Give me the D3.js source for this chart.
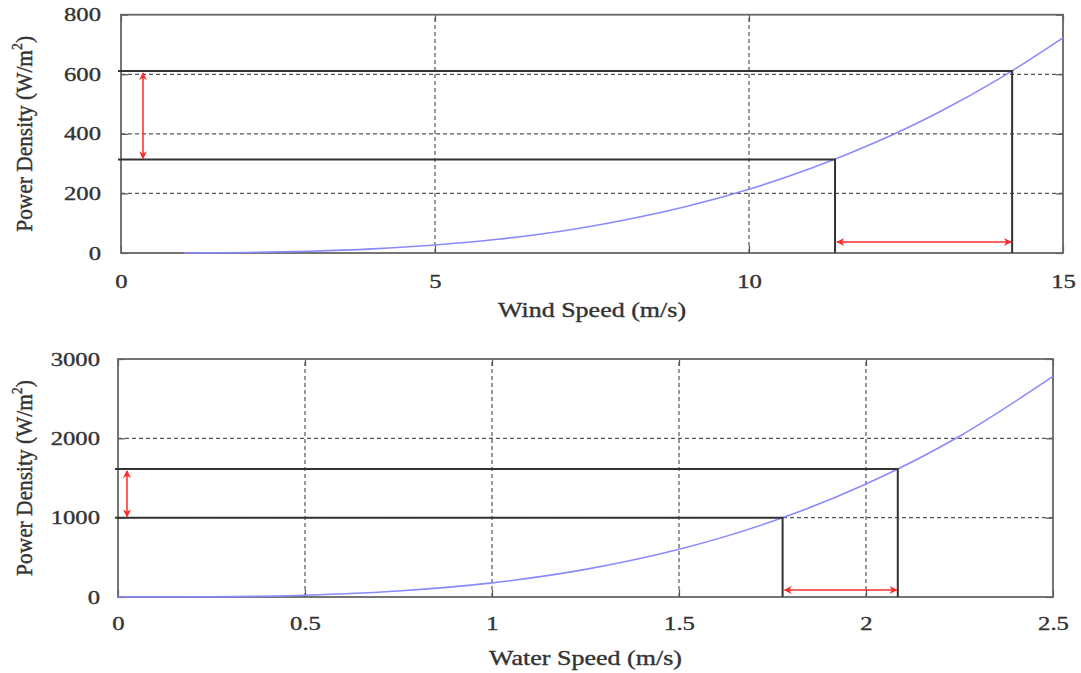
<!DOCTYPE html>
<html>
<head>
<meta charset="utf-8">
<script src="https://cdn.jsdelivr.net/npm/d3@7"></script>
<style>
  body { margin: 0; background: #fff; }
  text { font-family: "Liberation Serif", "DejaVu Serif", serif; fill: #333; stroke: #333; stroke-width: 0.35; }
</style>
</head>
<body>
<script>
// wind panel data
var windSpeed = [1, 2, 3, 4, 5, 6, 7, 8, 9, 10, 11, 12, 13, 14, 15];
var windPower = [0.2, 1.7, 5.8, 13.7, 26.8, 46, 73, 110, 156, 214, 285, 370, 470, 587, 722];
var windMarkSpeed = [11.37, 14.19];
var windMarkPower = [314, 611];
var windXTicks = [0, 5, 10, 15];
var windYTicks = [0, 200, 400, 600, 800];

// water panel data
var waterSpeed = [0, 0.25, 0.5, 0.75, 1, 1.25, 1.5, 1.75, 2, 2.25, 2.5];
var waterPower = [0, 2.8, 22, 75, 178, 348, 601, 954, 1424, 2027, 2781];
var waterMarkSpeed = [1.777, 2.085];
var waterMarkPower = [1000, 1615];
var waterXTicks = [0, 0.5, 1, 1.5, 2, 2.5];
var waterYTicks = [0, 1000, 2000, 3000];

var stretch = 1.3; // the source picture is widened horizontally

var svg = d3.select('body').append('svg')
    .attr('width', 1081)
    .attr('height', 673);

svg.append('defs').append('marker')
    .attr('id', 'head')
    .attr('viewBox', '0 0 10 10')
    .attr('refX', 9).attr('refY', 5)
    .attr('markerWidth', 10).attr('markerHeight', 8)
    .attr('markerUnits', 'userSpaceOnUse')
    .attr('orient', 'auto-start-reverse')
  .append('path')
    .attr('d', 'M0,0 L10,5 L0,10 L3,5 Z')
    .attr('fill', '#ff2a2a');

function panel(cfg) {
  var x = d3.scaleLinear().domain(cfg.xDomain).range(cfg.xRange);
  var y = d3.scaleLinear().domain(cfg.yDomain).range(cfg.yRange);
  var g = svg.append('g');
  var fmt = d => String(d);

  // dashed grid
  g.selectAll('.vgrid').data(cfg.xTicks.slice(1, -1)).enter().append('line')
    .attr('x1', d => x(d)).attr('x2', d => x(d))
    .attr('y1', y.range()[0]).attr('y2', y.range()[1])
    .attr('stroke', '#555').attr('stroke-width', 1.2).attr('stroke-dasharray', '4,3');
  g.selectAll('.hgrid').data(cfg.yTicks.slice(1, -1)).enter().append('line')
    .attr('y1', d => y(d)).attr('y2', d => y(d))
    .attr('x1', x.range()[0]).attr('x2', x.range()[1])
    .attr('stroke', '#555').attr('stroke-width', 1.2).attr('stroke-dasharray', '4,3');

  // axes with inward ticks
  var xa = g.append('g').attr('transform', 'translate(0,' + y.range()[0] + ')')
    .call(d3.axisBottom(x).tickValues(cfg.xTicks).tickFormat(fmt).tickSizeInner(-7).tickSizeOuter(0).tickPadding(cfg.xPad));
  var ya = g.append('g').attr('transform', 'translate(' + x.range()[0] + ',0)')
    .call(d3.axisLeft(y).tickValues(cfg.yTicks).tickFormat(fmt).tickSizeInner(-7).tickSizeOuter(0).tickPadding(cfg.yPad));
  g.append('g').attr('transform', 'translate(0,' + y.range()[1] + ')')
    .call(d3.axisTop(x).tickValues(cfg.xTicks).tickSizeInner(-7).tickSizeOuter(0).tickFormat(''));
  g.append('g').attr('transform', 'translate(' + x.range()[1] + ',0)')
    .call(d3.axisRight(y).tickValues(cfg.yTicks).tickSizeInner(-7).tickSizeOuter(0).tickFormat(''));
  g.selectAll('.domain').remove();
  g.selectAll('.tick line').attr('stroke', '#555').attr('stroke-width', 1.2);
  g.selectAll('.tick text').attr('font-size', 19)
    .attr('font-family', '"Liberation Serif", serif').attr('fill', '#333');
  xa.selectAll('.tick text').attr('transform', 'scale(' + stretch + ',1)');
  ya.selectAll('.tick text').attr('x', 0)
    .attr('transform', 'translate(' + (-cfg.yPad) + ',0) scale(' + stretch + ',1)');

  // frame
  g.append('rect')
    .attr('x', x.range()[0]).attr('y', y.range()[1])
    .attr('width', x.range()[1] - x.range()[0])
    .attr('height', y.range()[0] - y.range()[1])
    .attr('fill', 'none').attr('stroke', '#666').attr('stroke-width', 1.8);

  // power curve
  var pts = cfg.speed.map((s, i) => [s, cfg.power[i]]);
  g.append('path').datum(pts)
    .attr('d', d3.line().x(d => x(d[0])).y(d => y(d[1])).curve(d3.curveMonotoneX))
    .attr('fill', 'none').attr('stroke', '#8a8aff').attr('stroke-width', 1.6);

  // guide lines: horizontal from axis to the curve, vertical down to zero
  cfg.markSpeed.forEach(function(s, i) {
    var p = cfg.markPower[i];
    g.append('path')
      .attr('d', 'M' + (x(0) - 3) + ',' + y(p) + 'H' + x(s) + 'V' + y(0))
      .attr('fill', 'none').attr('stroke', '#333').attr('stroke-width', 2);
  });

  // red arrows
  var ax = x(0) + cfg.vArrowOff;
  g.append('line')
    .attr('x1', ax).attr('x2', ax)
    .attr('y1', y(cfg.markPower[1]) + 2).attr('y2', y(cfg.markPower[0]) - 1)
    .attr('stroke', '#ff2a2a').attr('stroke-width', 1.5)
    .attr('marker-start', 'url(#head)').attr('marker-end', 'url(#head)');
  var ay = y(0) - cfg.hArrowOff;
  g.append('line')
    .attr('x1', x(cfg.markSpeed[0]) + 2).attr('x2', x(cfg.markSpeed[1]) - 1)
    .attr('y1', ay).attr('y2', ay)
    .attr('stroke', '#ff2a2a').attr('stroke-width', 1.5)
    .attr('marker-start', 'url(#head)').attr('marker-end', 'url(#head)');

  // axis titles
  var cx = (x.range()[0] + x.range()[1]) / 2;
  g.append('text').text(cfg.xTitle)
    .attr('transform', 'translate(' + cx + ',' + cfg.xTitleY + ') scale(' + stretch + ',1)')
    .attr('text-anchor', 'middle').attr('font-size', 20);
  var yt = g.append('text')
    .attr('transform', 'translate(' + cfg.yTitleX + ',' + (y.range()[0] + y.range()[1]) / 2 + ') rotate(-90) scale(1.07,1.2)')
    .attr('text-anchor', 'middle').attr('font-size', 20);
  yt.append('tspan').text('Power Density (W/m');
  yt.append('tspan').text('2').attr('font-size', 13).attr('dy', -8);
  yt.append('tspan').text(')').attr('dy', 8);
}

panel({
  xDomain: [0, 15], xRange: [121, 1063],
  yDomain: [0, 800], yRange: [253, 14.7],
  xTicks: windXTicks, yTicks: windYTicks,
  speed: windSpeed, power: windPower,
  markSpeed: windMarkSpeed, markPower: windMarkPower,
  xPad: 22, yPad: 20, vArrowOff: 22, hArrowOff: 11,
  xTitle: 'Wind Speed (m/s)', xTitleY: 317, yTitleX: 32
});

panel({
  xDomain: [0, 2.5], xRange: [118, 1053],
  yDomain: [0, 3000], yRange: [597, 359],
  xTicks: waterXTicks, yTicks: waterYTicks,
  speed: waterSpeed, power: waterPower,
  markSpeed: waterMarkSpeed, markPower: waterMarkPower,
  xPad: 20, yPad: 18, vArrowOff: 9, hArrowOff: 7,
  xTitle: 'Water Speed (m/s)', xTitleY: 665, yTitleX: 32
});
</script>
</body>
</html>
